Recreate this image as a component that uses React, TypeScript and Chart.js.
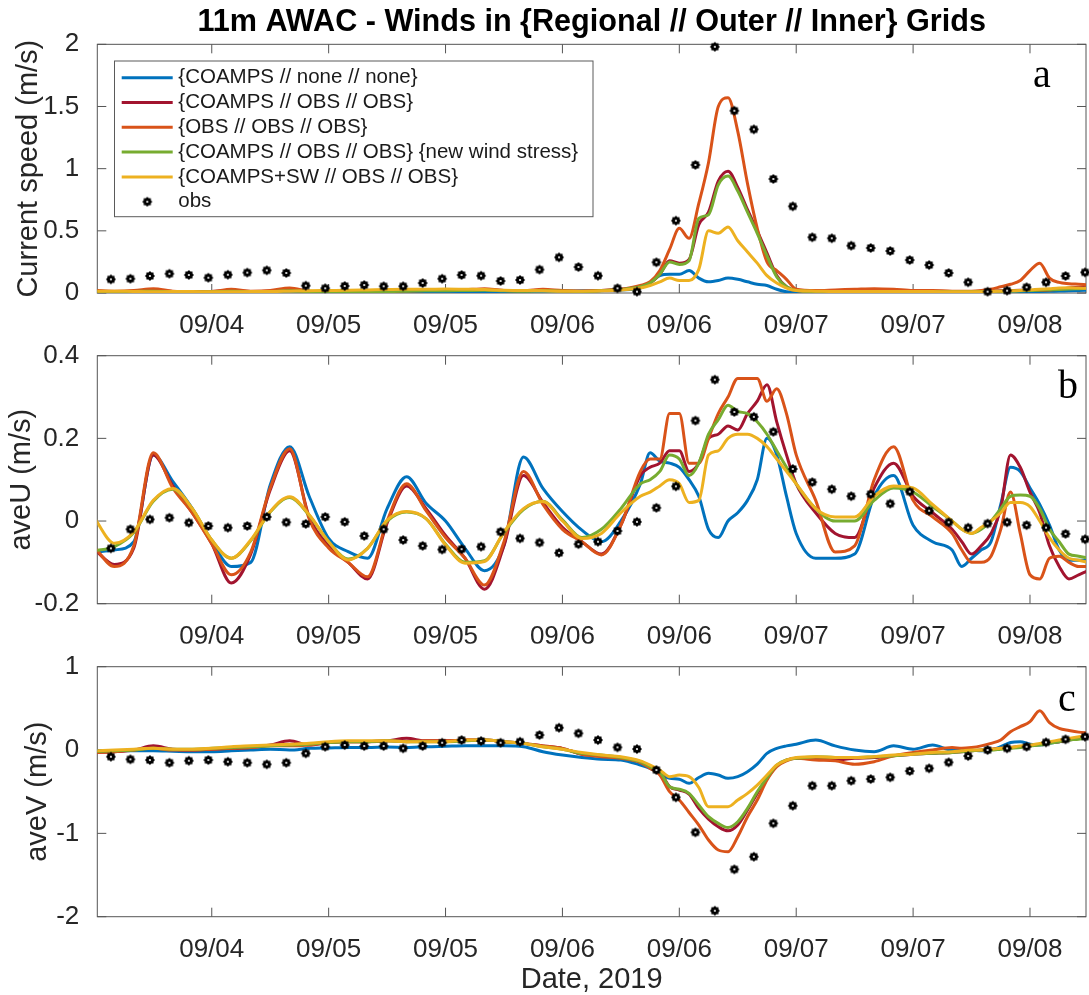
import React, { useEffect, useRef } from "react";
import { Chart, registerables } from "chart.js";

Chart.register(...registerables);

const FONT = '"Liberation Sans", Arial, Helvetica, sans-serif';
const SERIF = '"Liberation Serif", "Times New Roman", serif';
const AXIS_COLOR = "#262626";
const FRAME_COLOR = "#555555";

// ---------- shared axes / categories ----------
const mainTitle = "11m AWAC - Winds in {Regional // Outer // Inner} Grids";
const xTitle = "Date, 2019";
const tickHours = [12, 24, 36, 48, 60, 72, 84, 96];
const tickLabels = ["09/04", "09/05", "09/05", "09/06", "09/06", "09/07", "09/07", "09/08"];
const xRange = [0.25, 101.75];

const seriesLabels = [
  "{COAMPS // none // none}",
  "{COAMPS // OBS // OBS}",
  "{OBS // OBS // OBS}",
  "{COAMPS // OBS // OBS} {new wind stress}",
  "{COAMPS+SW // OBS // OBS}",
];
const obsLabel = "obs";
const seriesColors = ["#0072BD", "#A2142F", "#D95319", "#77AC30", "#EDB120"];

// model output times (hours)
const hours = [
  0, 2, 4, 6, 8, 10, 12, 14, 16, 18, 20, 22, 24, 26, 28, 30, 32, 34, 36, 38, 40, 42, 44, 46, 48, 50, 52, 54, 56,
  57, 58, 59, 60, 61, 62, 63, 64, 65, 66, 67, 68, 69, 70, 71, 72,
  74, 76, 78, 80, 82, 84, 86, 88,
  89, 90, 91, 92, 93, 94, 95, 96, 97, 98, 99, 100, 101, 102,
];

// observation times (hours)
const obsHours = [
  1.65, 3.65, 5.65, 7.65, 9.65, 11.65, 13.65, 15.65, 17.65, 19.65, 21.65, 23.65, 25.65, 27.65, 29.65, 31.65,
  33.65, 35.65, 37.65, 39.65, 41.65, 43.65, 45.65, 47.65, 49.65, 51.65, 53.65, 55.65, 57.65, 59.65, 61.65,
  63.65, 65.65, 67.65, 69.65, 71.65, 73.65, 75.65, 77.65, 79.65, 81.65, 83.65, 85.65, 87.65, 89.65, 91.65,
  93.65, 95.65, 97.65, 99.65, 101.65,
];

// ---------- panel a : current speed ----------
const speedCoamps = [
  0.01, 0.01, 0.012, 0.01, 0.008, 0.008, 0.01, 0.008, 0.006, 0.005, 0.006, 0.004, 0.0, 0.0, 0.002, 0.004, 0.003, 0.002, 0.006, 0.008, 0.01, 0.01, 0.012, 0.015, 0.015, 0.018, 0.02, 0.025, 0.04,
  0.08, 0.14, 0.15, 0.15, 0.18, 0.12, 0.09, 0.1, 0.12, 0.11, 0.09, 0.07, 0.06, 0.03, 0.01, 0.005,
  0.003, 0.002, 0.002, 0.003, 0.004, 0.004, 0.004, 0.005,
  0.005, 0.005, 0.006, 0.006, 0.007, 0.008, 0.009, 0.01, 0.012, 0.014, 0.016, 0.018, 0.02, 0.022,
];
const speedCoampsObs = [
  0.015, 0.012, 0.015, 0.02, 0.012, 0.01, 0.012, 0.02, 0.012, 0.015, 0.025, 0.012, 0.01, 0.012, 0.015, 0.015, 0.018, 0.02, 0.02, 0.022, 0.028, 0.02, 0.018, 0.022, 0.018, 0.015, 0.02, 0.03, 0.05,
  0.08, 0.15, 0.26, 0.24, 0.27, 0.55, 0.65, 0.9, 0.98, 0.85, 0.67, 0.5, 0.32, 0.14, 0.05, 0.02,
  0.015, 0.015, 0.015, 0.015, 0.015, 0.015, 0.012, 0.01,
  0.01, 0.01, 0.012, 0.015, 0.018, 0.02, 0.022, 0.02, 0.02, 0.025, 0.03, 0.04, 0.045, 0.05,
];
const speedObsObs = [
  0.02, 0.015, 0.02, 0.035, 0.015, 0.01, 0.012, 0.03, 0.015, 0.02, 0.04, 0.015, 0.01, 0.012, 0.015, 0.015, 0.018, 0.02, 0.02, 0.025, 0.035, 0.02, 0.02, 0.03, 0.02, 0.015, 0.02, 0.03, 0.06,
  0.09, 0.18, 0.35, 0.52, 0.44, 0.72, 1.05, 1.5, 1.57, 1.3, 0.88, 0.52, 0.25, 0.18, 0.11, 0.03,
  0.02, 0.025, 0.03, 0.035, 0.03, 0.02, 0.02, 0.015,
  0.015, 0.015, 0.02, 0.03, 0.05, 0.07, 0.1, 0.18, 0.24, 0.12, 0.085, 0.075, 0.07, 0.065,
];
const speedNewStress = [
  0.012, 0.01, 0.012, 0.015, 0.01, 0.008, 0.01, 0.015, 0.01, 0.012, 0.018, 0.01, 0.008, 0.01, 0.012, 0.012, 0.015, 0.018, 0.018, 0.02, 0.022, 0.018, 0.015, 0.018, 0.015, 0.012, 0.018, 0.028, 0.05,
  0.08, 0.15, 0.25, 0.23, 0.26, 0.6, 0.63, 0.87, 0.94, 0.82, 0.65, 0.48, 0.3, 0.13, 0.05, 0.02,
  0.012, 0.01, 0.01, 0.01, 0.01, 0.01, 0.01, 0.01,
  0.01, 0.01, 0.01, 0.012, 0.014, 0.016, 0.018, 0.02, 0.022, 0.025, 0.028, 0.032, 0.035, 0.038,
];
const speedSw = [
  0.015, 0.015, 0.012, 0.01, 0.012, 0.012, 0.01, 0.01, 0.012, 0.012, 0.015, 0.018, 0.02, 0.022, 0.025, 0.028, 0.03, 0.03, 0.032, 0.03, 0.028, 0.022, 0.02, 0.018, 0.015, 0.015, 0.018, 0.025, 0.04,
  0.06, 0.09, 0.12, 0.1, 0.1, 0.19, 0.5, 0.48, 0.53, 0.42, 0.33, 0.24, 0.14, 0.08, 0.04, 0.02,
  0.015, 0.012, 0.012, 0.012, 0.012, 0.012, 0.012, 0.01,
  0.01, 0.01, 0.01, 0.012, 0.015, 0.018, 0.02, 0.025, 0.03, 0.035, 0.04, 0.042, 0.04, 0.038,
];
const speedObs = [
  0.11, 0.115, 0.137, 0.155, 0.145, 0.123, 0.147, 0.164, 0.182, 0.161, 0.059, 0.038, 0.056, 0.064, 0.054, 0.054,
  0.08, 0.115, 0.145, 0.139, 0.097, 0.105, 0.188, 0.287, 0.209,
  0.139, 0.038, 0.011, 0.247, 0.582, 1.03, 1.98, 1.466, 1.316, 0.917, 0.697, 0.448, 0.44, 0.381, 0.362, 0.338,
  0.265, 0.225, 0.161, 0.086, 0.011, 0.019, 0.046, 0.086, 0.137, 0.166,
];

// ---------- panel b : aveU ----------
const aveUCoamps = [
  -0.075, -0.07, -0.05, 0.16, 0.096, 0.03, -0.05, -0.11, -0.1, 0.087, 0.18, 0.06, -0.042, -0.074, -0.09, 0.03, 0.107, 0.043, 0.0, -0.066, -0.12, -0.058, 0.155, 0.079, 0.023, -0.022, -0.05, 0.0, 0.09,
  0.165, 0.145, 0.14, 0.13, 0.1, 0.06, -0.02, -0.04, 0.0, 0.02, 0.05, 0.1, 0.2, 0.16, 0.06, -0.03,
  -0.09, -0.09, -0.08, 0.06, 0.11, -0.01, -0.05, -0.07,
  -0.11, -0.09, -0.07, -0.05, 0.04, 0.13, 0.12, 0.08, 0.04, -0.01, -0.07, -0.095, -0.095, -0.095,
];
const aveUCoampsObs = [
  -0.07, -0.105, -0.065, 0.16, 0.085, 0.02, -0.055, -0.15, -0.08, 0.075, 0.17, 0.01, -0.06, -0.1, -0.14, -0.005, 0.085, 0.03, -0.035, -0.09, -0.165, -0.06, 0.11, 0.045, -0.015, -0.05, -0.08, -0.01, 0.11,
  0.13, 0.14, 0.17, 0.17, 0.12, 0.14, 0.2, 0.21, 0.23, 0.22, 0.26, 0.29, 0.33, 0.24, 0.16, 0.09,
  0.02, -0.03, -0.04, 0.08, 0.14, 0.06, 0.02, -0.02,
  -0.05, -0.08, -0.06, -0.03, 0.03, 0.16, 0.13, 0.07, 0.02, -0.06, -0.11, -0.14, -0.13, -0.12,
];
const aveUObsObs = [
  -0.065, -0.11, -0.06, 0.165, 0.08, 0.02, -0.055, -0.13, -0.075, 0.08, 0.175, 0.005, -0.065, -0.1, -0.135, 0.0, 0.09, 0.025, -0.04, -0.09, -0.155, -0.05, 0.12, 0.04, -0.02, -0.05, -0.082, -0.01, 0.12,
  0.15, 0.15, 0.26, 0.26, 0.14, 0.14, 0.2, 0.26, 0.3, 0.345, 0.345, 0.345, 0.29, 0.32, 0.26, 0.16,
  0.05, -0.075, -0.06, 0.1, 0.18, 0.05, 0.01, -0.03,
  -0.07, -0.1, -0.1, -0.085, -0.02, 0.07, -0.03, -0.13, -0.14, -0.09, -0.085, -0.1, -0.11, -0.11,
];
const aveUNewStress = [
  -0.072, -0.062, -0.028, 0.048, 0.077, 0.03, -0.046, -0.09, -0.048, 0.022, 0.057, 0.014, -0.05, -0.092, -0.066, 0.0, 0.022, 0.006, -0.056, -0.1, -0.096, -0.028, 0.028, 0.048, 0.003, -0.04, -0.02, 0.03, 0.09,
  0.1, 0.12, 0.16, 0.15, 0.11, 0.14, 0.21, 0.245, 0.28, 0.265, 0.26, 0.24, 0.21, 0.17, 0.13, 0.09,
  0.03, 0.0, 0.0, 0.05, 0.08, 0.07, 0.035, 0.0,
  -0.02, -0.03, -0.02, 0.0, 0.03, 0.06, 0.063, 0.06, 0.03, -0.02, -0.05, -0.08, -0.085, -0.09,
];
const aveUSw = [
  0.005, -0.054, -0.026, 0.05, 0.079, 0.03, -0.046, -0.09, -0.046, 0.023, 0.059, 0.015, -0.05, -0.094, -0.066, 0.002, 0.023, 0.006, -0.058, -0.102, -0.098, -0.026, 0.03, 0.047, 0.0, -0.042, -0.03, 0.02, 0.06,
  0.07, 0.085, 0.1, 0.09, 0.045, 0.05, 0.16, 0.17, 0.2, 0.21, 0.21, 0.2, 0.18, 0.15, 0.12, 0.09,
  0.03, 0.01, 0.01, 0.06, 0.085, 0.08, 0.04, 0.0,
  -0.02, -0.03, -0.015, 0.0, 0.02, 0.045, 0.045, 0.035, 0.0, -0.04, -0.07, -0.09, -0.095, -0.1,
];
const aveUObs = [
  -0.066, -0.02, 0.004, 0.008, -0.004, -0.012, -0.016, -0.012, 0.01, -0.003, -0.007, 0.01, -0.002, -0.036, -0.02,
  -0.046, -0.06, -0.069, -0.068, -0.062, -0.026, -0.042, -0.052, -0.077, -0.056,
  -0.05, -0.024, -0.002, 0.032, 0.084, 0.243, 0.342, 0.264, 0.252, 0.216, 0.126, 0.094, 0.077, 0.06, 0.065, 0.042,
  0.071, 0.025, -0.003, -0.016, -0.006, -0.003, -0.01, -0.016, -0.031, -0.044,
];

// ---------- panel c : aveV ----------
const aveVCoamps = [
  -0.01, -0.01, -0.01, -0.01, -0.015, -0.02, -0.02, -0.01, 0.0, 0.01, 0.0, 0.02, 0.025, 0.03, 0.03, 0.035, 0.03, 0.04, 0.045, 0.05, 0.05, 0.05, 0.04, -0.02, -0.06, -0.09, -0.11, -0.12, -0.18,
  -0.22, -0.28, -0.34, -0.35, -0.4, -0.33, -0.28, -0.3, -0.34, -0.32, -0.26, -0.17, -0.04, 0.02, 0.05, 0.07,
  0.12, 0.05, 0.0, -0.02, 0.05, 0.01, 0.06, 0.0,
  0.0, 0.0, -0.01, 0.0, 0.04, 0.09, 0.1, 0.07, 0.06, 0.08, 0.1, 0.12, 0.14, 0.16,
];
const aveVCoampsObs = [
  -0.03, -0.02, 0.0, 0.05, 0.01, 0.0, 0.01, 0.02, 0.03, 0.06, 0.11, 0.06, 0.09, 0.1, 0.1, 0.11, 0.14, 0.11, 0.11, 0.12, 0.12, 0.1, 0.08, 0.05, 0.02, -0.05, -0.07, -0.09, -0.14,
  -0.2, -0.26, -0.44, -0.48, -0.53, -0.7, -0.83, -0.92, -0.97, -0.9, -0.72, -0.52, -0.34, -0.19, -0.12, -0.1,
  -0.1, -0.12, -0.1, -0.09, -0.07, -0.05, -0.04, -0.03,
  -0.02, -0.01, 0.0, 0.01, 0.02, 0.03, 0.04, 0.05, 0.07, 0.09, 0.1, 0.12, 0.14, 0.15,
];
const aveVObsObs = [
  -0.03, -0.02, 0.0, 0.02, 0.0, 0.0, 0.01, 0.02, 0.03, 0.05, 0.05, 0.06, 0.09, 0.1, 0.1, 0.11, 0.1, 0.11, 0.11, 0.12, 0.12, 0.1, 0.08, 0.05, 0.02, -0.05, -0.08, -0.1, -0.15,
  -0.22, -0.3, -0.5, -0.6, -0.75, -0.9, -1.08, -1.2, -1.22, -1.04, -0.8, -0.6, -0.36, -0.2, -0.13, -0.1,
  -0.12, -0.13, -0.17, -0.14, -0.07, -0.03, 0.0, 0.03,
  0.02, 0.03, 0.05, 0.08, 0.12, 0.22, 0.28, 0.34, 0.47, 0.33, 0.26, 0.235, 0.215, 0.205,
];
const aveVNewStress = [
  -0.02, -0.01, 0.0, 0.02, 0.01, 0.01, 0.02, 0.03, 0.04, 0.05, 0.06, 0.07, 0.09, 0.1, 0.1, 0.11, 0.1, 0.1, 0.1, 0.11, 0.12, 0.1, 0.08, 0.04, 0.01, -0.04, -0.06, -0.09, -0.14,
  -0.2, -0.26, -0.44, -0.47, -0.52, -0.66, -0.8, -0.88, -0.93, -0.86, -0.7, -0.5, -0.33, -0.18, -0.12, -0.1,
  -0.08, -0.09, -0.09, -0.08, -0.07, -0.05, -0.04, -0.03,
  -0.02, -0.01, 0.0, 0.0, 0.01, 0.02, 0.03, 0.05, 0.06, 0.08, 0.1, 0.12, 0.13, 0.15,
];
const aveVSw = [
  -0.01, 0.0, 0.01, 0.02, 0.01, 0.01, 0.02, 0.04, 0.05, 0.06, 0.07, 0.08, 0.1, 0.11, 0.11, 0.11, 0.1, 0.1, 0.1, 0.12, 0.12, 0.1, 0.08, 0.04, 0.01, -0.03, -0.06, -0.08, -0.13,
  -0.18, -0.24, -0.32, -0.3, -0.32, -0.45, -0.68, -0.68, -0.68, -0.6, -0.52, -0.42, -0.3, -0.18, -0.12, -0.09,
  -0.08, -0.09, -0.09, -0.08, -0.06, -0.05, -0.03, -0.02,
  -0.01, 0.0, 0.0, 0.01, 0.02, 0.03, 0.05, 0.06, 0.08, 0.1, 0.12, 0.14, 0.16, 0.18,
];
const aveVObs = [
  -0.08, -0.112, -0.12, -0.152, -0.128, -0.12, -0.14, -0.152, -0.172, -0.152, -0.04, 0.04, 0.06, 0.048, 0.048,
  0.02, 0.048, 0.088, 0.12, 0.108, 0.088, 0.1, 0.18, 0.268, 0.2,
  0.12, 0.032, 0.012, -0.24, -0.568, -0.988, -1.928, -1.432, -1.28, -0.88, -0.668, -0.428, -0.428, -0.368, -0.348,
  -0.328, -0.252, -0.22, -0.148, -0.072, 0, 0.02, 0.04, 0.092, 0.128, 0.16,
];

// y tick sets
const speedTicks = [0, 0.5, 1, 1.5, 2];
const speedTickLabels = ["0", "0.5", "1", "1.5", "2"];
const aveUTicks = [-0.2, 0, 0.2, 0.4];
const aveUTickLabels = ["-0.2", "0", "0.2", "0.4"];
const aveVTicks = [-2, -1, 0, 1];
const aveVTickLabels = ["-2", "-1", "0", "1"];

// ---------- helpers ----------
let obsMarkerCanvas: HTMLCanvasElement | null = null;
function getObsMarker(): HTMLCanvasElement {
  if (obsMarkerCanvas) return obsMarkerCanvas;
  const c = document.createElement("canvas");
  c.width = 12;
  c.height = 12;
  const ctx = c.getContext("2d")!;
  const cx = 6;
  const cy = 6;
  ctx.fillStyle = "#000";
  ctx.beginPath();
  for (let i = 0; i < 16; i++) {
    const r = i % 2 === 0 ? 5.0 : 3.9;
    const a = (i * Math.PI) / 8 - Math.PI / 2;
    const px = cx + r * Math.cos(a);
    const py = cy + r * Math.sin(a);
    if (i === 0) ctx.moveTo(px, py);
    else ctx.lineTo(px, py);
  }
  ctx.closePath();
  ctx.fill();
  ctx.fillStyle = "#fff";
  ctx.beginPath();
  ctx.arc(cx, cy, 1.1, 0, Math.PI * 2);
  ctx.fill();
  obsMarkerCanvas = c;
  return c;
}

type PanelCfg = {
  series: number[][];
  obs: number[];
  yMin: number;
  yMax: number;
  yTicks: number[];
  yTickLabels: string[];
  yTitle: string;
  padLeft: number;
  padTop: number;
  padBottom: number;
  xHeight: number;
  showTitle: boolean;
  showXTitle: boolean;
  showLegend: boolean;
  letter: string;
  letterX: number;
  letterY: number;
};

const CANVAS_W = 1091;
const CANVAS_H = 995;
const PLOT_LEFT = 97.3;

const panels: PanelCfg[] = [
  {
    series: [speedCoamps, speedCoampsObs, speedObsObs, speedNewStress, speedSw],
    obs: speedObs,
    yMin: 0,
    yMax: 2,
    yTicks: speedTicks,
    yTickLabels: speedTickLabels,
    yTitle: "Current speed (m/s)",
    padLeft: 11.6,
    padTop: 0,
    padBottom: 662,
    xHeight: 40,
    showTitle: true,
    showXTitle: false,
    showLegend: true,
    letter: "a",
    letterX: 1033,
    letterY: 87,
  },
  {
    series: [aveUCoamps, aveUCoampsObs, aveUObsObs, aveUNewStress, aveUSw],
    obs: aveUObs,
    yMin: -0.2,
    yMax: 0.4,
    yTicks: aveUTicks,
    yTickLabels: aveUTickLabels,
    yTitle: "aveU (m/s)",
    padLeft: 4.1,
    padTop: 355.7,
    padBottom: 351.3,
    xHeight: 40,
    showTitle: false,
    showXTitle: false,
    showLegend: false,
    letter: "b",
    letterX: 1058,
    letterY: 398,
  },
  {
    series: [aveVCoamps, aveVCoampsObs, aveVObsObs, aveVNewStress, aveVSw],
    obs: aveVObs,
    yMin: -2,
    yMax: 1,
    yTicks: aveVTicks,
    yTickLabels: aveVTickLabels,
    yTitle: "aveV (m/s)",
    padLeft: 20.1,
    padTop: 666.7,
    padBottom: 0.4,
    xHeight: 77.9,
    showTitle: false,
    showXTitle: true,
    showLegend: false,
    letter: "c",
    letterX: 1058,
    letterY: 711,
  },
];

function buildConfig(cfg: PanelCfg): any {
  const datasets: any[] = cfg.series.map((arr, i) => ({
    label: seriesLabels[i],
    data: hours.map((h, j) => ({ x: h, y: arr[j] })),
    borderColor: seriesColors[i],
    backgroundColor: seriesColors[i],
    borderWidth: 3,
    pointRadius: 0,
    cubicInterpolationMode: "monotone",
    fill: false,
    order: 5 - i,
  }));
  datasets.push({
    label: obsLabel,
    data: obsHours.map((h, j) => ({ x: h, y: cfg.obs[j] })),
    showLine: false,
    pointStyle: getObsMarker(),
    pointRadius: 5,
    borderWidth: 0,
    borderColor: "#000",
    backgroundColor: "#000",
    order: 0,
    clip: false,
  });

  const framePlugin = {
    id: "matlabFrame",
    beforeDatasetsDraw(chart: any) {
      const { ctx, chartArea: a, scales } = chart;
      ctx.save();
      ctx.strokeStyle = FRAME_COLOR;
      ctx.lineWidth = 1;
      ctx.strokeRect(a.left, a.top, a.right - a.left, a.bottom - a.top);
      const tl = 9;
      ctx.beginPath();
      for (const t of tickHours) {
        const x = scales.x.getPixelForValue(t);
        ctx.moveTo(x, a.bottom);
        ctx.lineTo(x, a.bottom - tl);
        ctx.moveTo(x, a.top);
        ctx.lineTo(x, a.top + tl);
      }
      for (const v of cfg.yTicks) {
        const y = scales.y.getPixelForValue(v);
        ctx.moveTo(a.left, y);
        ctx.lineTo(a.left + tl, y);
        ctx.moveTo(a.right, y);
        ctx.lineTo(a.right - tl, y);
      }
      ctx.stroke();
      ctx.restore();
    },
  };

  const overlayPlugin = {
    id: "matlabOverlay",
    afterDraw(chart: any) {
      const ctx = chart.ctx;
      ctx.save();
      // panel letter
      ctx.font = `40px ${SERIF}`;
      ctx.fillStyle = "#000";
      ctx.textAlign = "left";
      ctx.textBaseline = "alphabetic";
      ctx.fillText(cfg.letter, cfg.letterX, cfg.letterY);

      if (cfg.showLegend) {
        const bx = 114.5;
        const by = 61;
        const bw = 478.5;
        const bh = 155.7;
        ctx.fillStyle = "#fff";
        ctx.fillRect(bx, by, bw, bh);
        ctx.strokeStyle = "#5a5a5a";
        ctx.lineWidth = 1;
        ctx.strokeRect(bx, by, bw, bh);
        ctx.font = `20.5px ${FONT}`;
        ctx.textBaseline = "middle";
        const ds = chart.data.datasets;
        for (let i = 0; i < ds.length; i++) {
          const y = 77.7 + 24.8 * i;
          if (i < 5) {
            ctx.strokeStyle = ds[i].borderColor;
            ctx.lineWidth = 3;
            ctx.beginPath();
            ctx.moveTo(121.7, y);
            ctx.lineTo(172.7, y);
            ctx.stroke();
          } else {
            const m = getObsMarker();
            ctx.drawImage(m, 147.3 - m.width / 2, y - m.height / 2);
          }
          ctx.fillStyle = "#1a1a1a";
          ctx.fillText(ds[i].label, 178.3, y);
        }
      }
      ctx.restore();
    },
  };

  return {
    type: "line",
    data: { datasets },
    plugins: [framePlugin, overlayPlugin],
    options: {
      responsive: false,
      animation: false,
      devicePixelRatio: 1,
      events: [],
      layout: {
        padding: {
          left: cfg.padLeft,
          right: CANVAS_W - 1090.2,
          top: cfg.padTop,
          bottom: cfg.padBottom,
        },
      },
      plugins: {
        legend: { display: false },
        tooltip: { enabled: false },
        title: {
          display: cfg.showTitle,
          text: mainTitle,
          color: "#000",
          fullSize: false,
          font: { family: FONT, size: 30.6, weight: "bold", lineHeight: 1.2 },
          padding: { top: 4.6, bottom: 3.0 },
        },
      },
      scales: {
        x: {
          type: "linear",
          position: "bottom",
          min: xRange[0],
          max: xRange[1],
          afterBuildTicks: (s: any) => {
            s.ticks = tickHours.map((v) => ({ value: v }));
          },
          afterFit: (s: any) => {
            s.height = cfg.xHeight;
          },
          grid: { display: false },
          border: { display: false },
          ticks: {
            autoSkip: false,
            maxRotation: 0,
            minRotation: 0,
            padding: 9.4,
            color: AXIS_COLOR,
            font: { family: FONT, size: 26 },
            callback: (_v: any, i: number) => tickLabels[i],
          },
          title: {
            display: cfg.showXTitle,
            text: xTitle,
            color: AXIS_COLOR,
            font: { family: FONT, size: 29, lineHeight: 1.0 },
            padding: 0,
          },
        },
        y: {
          type: "linear",
          position: "left",
          min: cfg.yMin,
          max: cfg.yMax,
          afterBuildTicks: (s: any) => {
            s.ticks = cfg.yTicks.map((v) => ({ value: v }));
          },
          afterFit: (s: any) => {
            s.width = PLOT_LEFT - cfg.padLeft;
          },
          grid: { display: false },
          border: { display: false },
          ticks: {
            padding: 10,
            color: AXIS_COLOR,
            font: { family: FONT, size: 26 },
            callback: (_v: any, i: number) => cfg.yTickLabels[i],
          },
          title: {
            display: true,
            text: cfg.yTitle,
            color: AXIS_COLOR,
            font: { family: FONT, size: 29 },
            padding: 0,
          },
        },
      },
    },
  };
}

function Panel({ cfg }: { cfg: PanelCfg }) {
  const ref = useRef<HTMLCanvasElement>(null);
  useEffect(() => {
    const chart = new Chart(ref.current as HTMLCanvasElement, buildConfig(cfg));
    return () => chart.destroy();
  }, [cfg]);
  return (
    <canvas
      ref={ref}
      width={CANVAS_W}
      height={CANVAS_H}
      style={{ position: "absolute", left: 0, top: 0, width: CANVAS_W, height: CANVAS_H }}
    />
  );
}

export default function App() {
  return (
    <div
      style={{
        position: "absolute",
        left: 0,
        top: 0,
        width: 1089,
        height: 995,
        overflow: "hidden",
        background: "#ffffff",
      }}
    >
      {panels.map((p, i) => (
        <Panel key={i} cfg={p} />
      ))}
    </div>
  );
}
